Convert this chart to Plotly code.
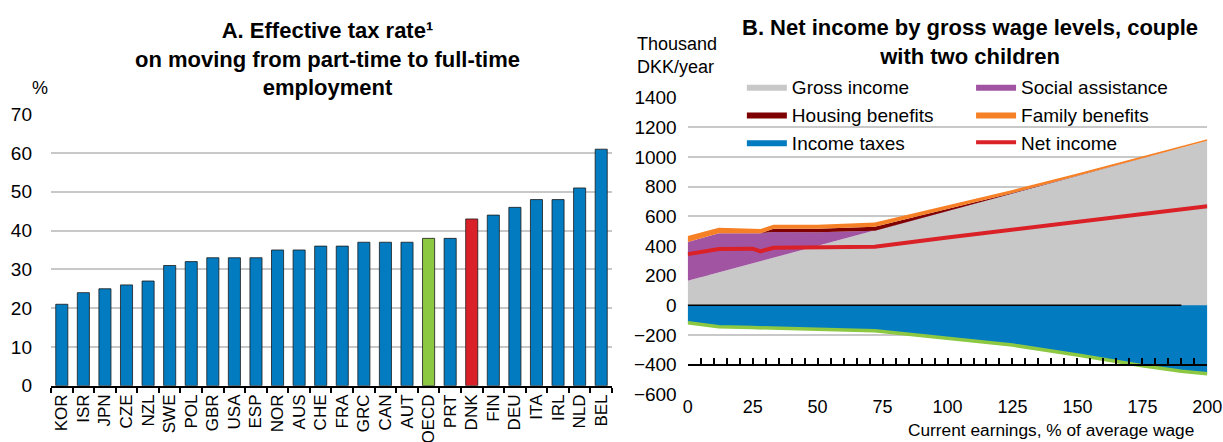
import plotly.graph_objects as go

# Panel A data
countries = ["KOR", "ISR", "JPN", "CZE", "NZL", "SWE", "POL", "GBR", "USA", "ESP", "NOR", "AUS", "CHE",
             "FRA", "GRC", "CAN", "AUT", "OECD", "PRT", "DNK", "FIN", "DEU", "ITA", "IRL", "NLD", "BEL"]
tax_rate = [21, 24, 25, 26, 27, 31, 32, 33, 33, 33, 35, 35, 36,
            36, 37, 37, 37, 38, 38, 43, 44, 46, 48, 48, 51, 61]

# Panel B data (thousand DKK/year)
earnings = [0, 12, 25, 28, 33, 50, 72, 100, 125, 150, 175, 190, 200]
gross_income = [165, 222, 280, 295, 318, 400, 503, 636, 755, 874, 992, 1063, 1110]
social_assistance = [262, 264, 206, 191, 176, 92, 0, 0, 0, 0, 0, 0, 0]
housing_benefits = [0, 0, 0, 0, 22, 25, 27, 15, 3, 0, 0, 0, 0]
family_benefits = [41, 37, 30, 28, 27, 27, 29, 25, 20, 15, 12, 10, 10]
income_taxes = [-118, -145, -150, -152, -155, -162, -172, -225, -268, -335, -408, -445, -462]
net_income = [345, 380, 382, 364, 388, 391, 395, 458, 512, 566, 620, 650, 668]
zero_line = [0, 0, 0, 0, 0, 0, 0, 0, 0, 0, 0, 0, None]
earnings_ticks = [0, 25, 50, 75, 100, 125, 150, 175, 200]

BLUE = "#037BC1"
GREEN = "#8CC841"
RED = "#DA2128"
FONT = "Liberation Sans, Arial"

W, H = 1223, 442

def bar_colour(c):
    if c == "OECD":
        return GREEN
    if c == "DNK":
        return RED
    return BLUE

fig = go.Figure()

# Panel A
fig.add_trace(go.Bar(
    x=countries, y=tax_rate,
    marker=dict(color=[bar_colour(c) for c in countries], line=dict(color="#1a1a1a", width=0.8)),
    width=0.56, showlegend=False, xaxis="x", yaxis="y"
))

# Panel B stacked areas
areas = [
    ("Gross income", gross_income, "#C8C8C8", "legend"),
    ("Social assistance", social_assistance, "#A154A1", "legend2"),
    ("Housing benefits", housing_benefits, "#7F0000", "legend"),
    ("Family benefits", family_benefits, "#F58025", "legend2"),
]
for name, vals, col, leg in areas:
    fig.add_trace(go.Scatter(
        x=earnings, y=vals, name=name, stackgroup="pos", mode="lines",
        line=dict(width=0, color=col), fillcolor=col,
        xaxis="x2", yaxis="y2", legend=leg
    ))

fig.add_trace(go.Scatter(
    x=earnings, y=income_taxes, name="Income taxes", stackgroup="neg", mode="lines",
    line=dict(width=0, color=BLUE), fillcolor=BLUE,
    xaxis="x2", yaxis="y2", legend="legend"
))
fig.add_trace(go.Scatter(
    x=earnings, y=income_taxes, mode="lines", line=dict(color=GREEN, width=3.5),
    showlegend=False, xaxis="x2", yaxis="y2"
))
fig.add_trace(go.Scatter(
    x=earnings, y=zero_line, mode="lines", line=dict(color="black", width=1.5),
    showlegend=False, xaxis="x2", yaxis="y2"
))
fig.add_trace(go.Scatter(
    x=earnings, y=net_income, name="Net income", mode="lines",
    line=dict(color=RED, width=4), xaxis="x2", yaxis="y2", legend="legend2"
))
# carrier for the tick line drawn at -400
fig.add_trace(go.Scatter(
    x=[earnings[0]], y=[None], mode="lines", showlegend=False, hoverinfo="skip",
    xaxis="x3", yaxis="y2"
))

dom_b = [0.1079, 0.779]
dom_bx = [0.5623, 0.9872]
grid = "#C8C8C8"

fig.update_layout(
    width=W, height=H,
    margin=dict(l=0, r=0, t=0, b=0),
    paper_bgcolor="white", plot_bgcolor="white",
    font=dict(family=FONT, size=18, color="black"),
    xaxis=dict(domain=[0.0417, 0.5004], showline=True, linecolor="black", linewidth=2,
               ticks="outside", tickson="boundaries", ticklen=5, tickcolor="black", tickwidth=1.5,
               tickmode="linear", tick0=0, dtick=1,
               tickangle=-90, tickfont=dict(size=17), automargin=False, fixedrange=True),
    yaxis=dict(domain=[0.1274, 0.7414], range=[0, 70], dtick=10, showgrid=True,
               gridcolor=grid, gridwidth=2, zeroline=False, showline=False,
               tickfont=dict(size=19), automargin=False, ticklabelstandoff=18),
    xaxis2=dict(domain=dom_bx, anchor="y2", range=[0, 200],
                tickmode="array", tickvals=earnings_ticks,
                showgrid=False, showline=False, zeroline=False, ticks="", ticklabeloverflow="allow",
                tickfont=dict(size=18), automargin=False),
    xaxis3=dict(overlaying="x2", anchor="free", domain=dom_bx,
                position=dom_b[0] + 0.1 * (dom_b[1] - dom_b[0]),
                range=[0, 200], tickmode="linear", dtick=5, tick0=0, showline=True,
                linecolor="black", linewidth=2,
                ticks="inside", ticklen=6, tickwidth=1.5, tickcolor="black",
                showticklabels=False, showgrid=False, zeroline=False, automargin=False),
    yaxis2=dict(domain=dom_b, anchor="x2", range=[-600, 1400], dtick=200, showgrid=True,
                gridcolor=grid, gridwidth=2, zeroline=False, showline=False,
                tickfont=dict(size=19), automargin=False, ticklabelstandoff=10),
    legend=dict(x=0.6066, y=0.8464, xanchor="left", yanchor="top", bgcolor="rgba(0,0,0,0)",
                font=dict(size=19), tracegroupgap=0, itemwidth=40, traceorder="normal"),
    legend2=dict(x=0.794, y=0.8464, xanchor="left", yanchor="top", bgcolor="rgba(0,0,0,0)",
                 font=dict(size=19), tracegroupgap=0, itemwidth=40, traceorder="normal"),
    annotations=[
        dict(text="<b>A. Effective tax rate¹<br>on moving from part-time to full-time<br>employment</b>",
             x=0.2678, y=0.9643, xref="paper", yref="paper", xanchor="center", yanchor="top",
             showarrow=False, font=dict(size=22)),
        dict(text="%", x=0.0327, y=0.8009, xref="paper", yref="paper", xanchor="center",
             yanchor="middle", showarrow=False, font=dict(size=18)),
        dict(text="<b>B. Net income by gross wage levels, couple<br>with two children</b>",
             x=0.7929, y=0.9701, xref="paper", yref="paper", xanchor="center", yanchor="top",
             showarrow=False, font=dict(size=22)),
        dict(text="Thousand<br>DKK/year", x=0.5192, y=0.9278, xref="paper", yref="paper",
             xanchor="left", yanchor="top", align="left", showarrow=False, font=dict(size=18)),
        dict(text="Current earnings, % of average wage", x=0.9779, y=0.0271, xref="paper", yref="paper",
             xanchor="right", yanchor="middle", showarrow=False, font=dict(size=17.3)),
    ],
)

# drop the default page margin so the figure fills the window exactly, and hide the toolbar
fig.write_html("out.html", config={"displayModeBar": False},
               post_script="document.body.style.margin = '0';")
